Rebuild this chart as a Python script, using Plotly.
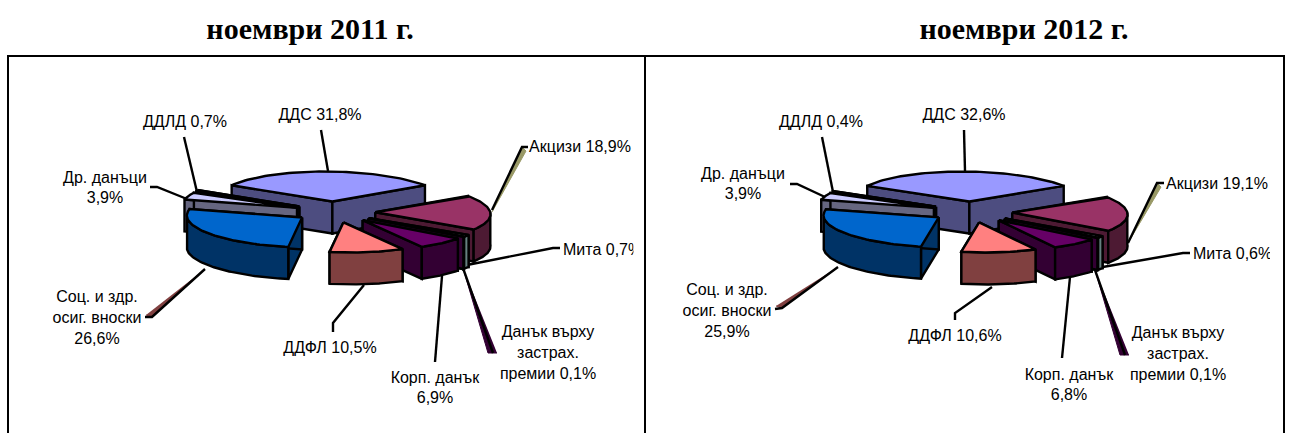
import numpy as np
import plotly.graph_objects as go

names = ["ДДС", "Акцизи", "Мита", "Данък върху застрах. премии", "Корп. данък",
         "ДДФЛ", "Соц. и здр. осиг. вноски", "Др. данъци", "ДДЛД"]
values_2011 = [31.8, 18.9, 0.7, 0.1, 6.9, 10.5, 26.6, 3.9, 0.7]
values_2012 = [32.6, 19.1, 0.6, 0.1, 6.8, 10.6, 25.9, 3.9, 0.4]
titles = ["ноември 2011 г.", "ноември 2012 г."]

# label line breaks (names) and layout
wrapped = ["ДДС {}", "Акцизи {}", "Мита {}", "Данък върху<br>застрах.<br>премии {}", "Корп. данък<br>{}",
           "ДДФЛ {}", "Соц. и здр.<br>осиг. вноски<br>{}", "Др. данъци<br>{}", "ДДЛД {}"]
top_colors = ["#9999FF", "#993366", "#CCFFFF", "#660066", "#660066", "#FF8080", "#0066CC", "#CCCCFF", "#000080"]
side_colors = ["#4D4D80", "#4D1A33", "#668080", "#330033", "#330033", "#804040", "#003366", "#666680", "#000040"]
draw_order = [0, 8, 7, 6, 1, 2, 3, 4, 5]

RX, RY, DEPTH, EXPLODE, SHEAR = 115, 30, 32, 0.35, 0.25
MIN_SWEEP = {2: 5.0}
centers = [(335, 212), (972, 212)]

label_pos = [
    [(320, 116), (580, 148), (563, 251), (548, 354), (435, 389), (330, 349), (97, 319), (105, 189), (185, 123)],
    [(964, 116), (1217, 185), (1193, 255), (1178, 355), (1069, 386), (955, 337), (727, 312), (743, 185), (821, 123)],
]
left_aligned = {2}

leaders = [
    [[(321, 130), (328, 171)], [(492, 210), (522, 147), (528, 147)], [(467, 265), (553, 248), (560, 248)],
     [(463, 268), (493, 353)], [(442, 276), (435, 362)], [(364, 285), (333, 323), (333, 332)],
     [(205, 269), (152, 317), (145, 317)], [(150, 187), (157, 187), (187, 199)], [(184, 137), (197, 192)]],
    [[(964, 130), (965, 171)], [(1128, 243), (1157, 183), (1164, 183)], [(1097, 268), (1183, 253), (1190, 253)],
     [(1095, 270), (1125, 355)], [(1070, 277), (1062, 358)], [(992, 287), (955, 313), (955, 320)],
     [(838, 267), (782, 308), (775, 309)], [(790, 184), (797, 184), (825, 197)], [(822, 137), (833, 192)]],
]
wedges = [
    [((492, 212), (526, 151), (522, 147)), "#999966"], [((463, 268), (488, 353), (497, 353)), "#330033"],
    [((205, 269), (152, 317), (146, 315)), "#804040"],
    [((1128, 243), (1161, 187), (1157, 183)), "#999966"], [((1095, 270), (1120, 355), (1129, 355)), "#330033"],
    [((838, 267), (782, 308), (776, 306)), "#804040"],
]
clips = [(633.5, 643), (1270, 1282)]
clip_rows = [(240, 262), (245, 267)]


def poly(xs, ys, fill, lw=2.4):
    return go.Scatter(x=list(xs), y=list(ys), mode="lines", fill="toself", fillcolor=fill,
                      line=dict(color="black", width=lw, shape="linear"), hoverinfo="skip", showlegend=False)


def pie(values, cx, cy):
    total = sum(values)
    frac = np.array(values) / total * 360
    start = -frac[0] / 2
    out = []
    bounds = start + np.concatenate([[0], np.cumsum(frac)])

    def project(x, y):
        # plane coordinates relative to the pie centre -> screen, sheared for the view angle
        return cx + x + SHEAR * y, cy + y

    for i in draw_order:
        a0, a1 = bounds[i], bounds[i + 1]
        m = (a0 + a1) / 2
        if i in MIN_SWEEP and a1 - a0 < MIN_SWEEP[i]:
            a0, a1 = m - MIN_SWEEP[i] / 2, m + MIN_SWEEP[i] / 2
        ox = EXPLODE * RX * np.sin(np.radians(m))
        oy = -EXPLODE * RY * np.cos(np.radians(m))
        ax, ay = project(ox, oy)
        th = np.radians(np.linspace(a0, a1, 60))
        px, py = project(ox + RX * np.sin(th), oy - RY * np.cos(th))
        for k in (0, -1):
            x1, y1 = px[k], py[k]
            out.append(poly([ax, x1, x1, ax, ax], [ay, y1, y1 + DEPTH, ay + DEPTH, ay], side_colors[i]))
        lo, hi = max(a0, 90), min(a1, 270)
        if hi > lo:
            w = np.radians(np.linspace(lo, hi, 60))
            wx, wy = project(ox + RX * np.sin(w), oy - RY * np.cos(w))
            out.append(poly(np.r_[wx, wx[::-1], wx[0]], np.r_[wy, wy[::-1] + DEPTH, wy[0]], side_colors[i]))
        out.append(poly(np.r_[ax, px, ax], np.r_[ay, py, ay], top_colors[i]))
    return out


fig = go.Figure()
for pts, col in wedges:
    fig.add_trace(go.Scatter(x=[p[0] for p in pts], y=[p[1] for p in pts], mode="lines", fill="toself",
                             fillcolor=col, line=dict(color=col, width=1), hoverinfo="skip", showlegend=False))
for group in leaders:
    for line in group:
        fig.add_trace(go.Scatter(x=[p[0] for p in line], y=[p[1] for p in line], mode="lines",
                                 line=dict(color="black", width=2.4), hoverinfo="skip", showlegend=False))

for values, (cx, cy) in zip([values_2011, values_2012], centers):
    for tr in pie(values, cx, cy):
        fig.add_trace(tr)

for values, pos in zip([values_2011, values_2012], label_pos):
    for i, v in enumerate(values):
        txt = wrapped[i].format(f"{v:.1f}".replace(".", ",") + "%")
        fig.add_trace(go.Scatter(x=[pos[i][0]], y=[pos[i][1]], mode="text", text=[txt],
                                 textposition="middle right" if i in left_aligned else "middle center",
                                 textfont=dict(family="Liberation Sans", size=16, color="black"),
                                 hoverinfo="skip", showlegend=False))

for (x0, x1), (y0, y1) in zip(clips, clip_rows):
    fig.add_trace(go.Scatter(x=[x0, x1, x1, x0, x0], y=[y0, y0, y1, y1, y0], mode="lines", fill="toself",
                             fillcolor="white", line=dict(color="white", width=0), hoverinfo="skip", showlegend=False))

for t, x in zip(titles, [310, 1024]):
    fig.add_trace(go.Scatter(x=[x], y=[31], mode="text", text=[f"<b>{t}</b>"], textposition="middle center",
                             textfont=dict(family="Liberation Serif", size=30, color="black"),
                             hoverinfo="skip", showlegend=False))

for x0, x1 in [(8, 645), (645, 1284)]:
    fig.add_shape(type="rect", x0=x0, x1=x1, y0=56, y1=445, line=dict(color="black", width=2), layer="above")

fig.update_layout(width=1294, height=433, margin=dict(l=0, r=0, t=0, b=0), paper_bgcolor="white",
                  plot_bgcolor="white", showlegend=False,
                  xaxis=dict(range=[0, 1294], visible=False, fixedrange=True),
                  yaxis=dict(range=[433, 0], visible=False, fixedrange=True))
fig.write_html("out.html", config={"displayModeBar": False},
               post_script="document.body.style.margin='0';document.body.style.overflow='hidden';")
